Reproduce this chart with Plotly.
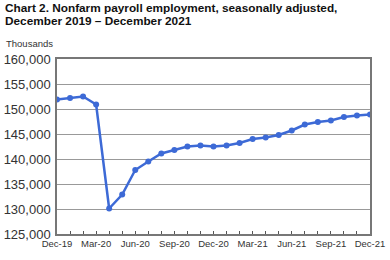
import plotly.graph_objects as go

months = ["Dec-19","Jan-20","Feb-20","Mar-20","Apr-20","May-20","Jun-20","Jul-20","Aug-20",
          "Sep-20","Oct-20","Nov-20","Dec-20","Jan-21","Feb-21","Mar-21","Apr-21","May-21",
          "Jun-21","Jul-21","Aug-21","Sep-21","Oct-21","Nov-21","Dec-21"]
employment = [151900, 152200, 152500, 150900, 130100, 132900, 137800, 139500, 141100,
              141800, 142500, 142700, 142500, 142700, 143200, 144000, 144300, 144800,
              145700, 146900, 147400, 147700, 148400, 148700, 148900]
labeled = ["Dec-19","Mar-20","Jun-20","Sep-20","Dec-20","Mar-21","Jun-21","Sep-21","Dec-21"]
yticks = [125000,130000,135000,140000,145000,150000,155000,160000]

title1 = "<b>Chart 2. Nonfarm payroll employment, seasonally adjusted,</b>"
title2 = "<b>December 2019 – December 2021</b>"

fig = go.Figure()
fig.add_trace(go.Scatter(x=months, y=employment, mode="lines+markers",
                         line=dict(color="#3d6ad6", width=2.5),
                         marker=dict(color="#3d6ad6", size=6)))
fig.update_layout(
    width=390, height=260, margin=dict(l=57, r=20, t=59, b=26),
    paper_bgcolor="white", plot_bgcolor="white", showlegend=False,
    font=dict(family="Liberation Sans, Arial", color="#333"),
    annotations=[
        dict(text=title1, xref="paper", yref="paper", x=-0.172, y=1.291,
             xanchor="left", yanchor="middle", showarrow=False,
             font=dict(size=11.8, color="#111")),
        dict(text=title2, xref="paper", yref="paper", x=-0.172, y=1.217,
             xanchor="left", yanchor="middle", showarrow=False,
             font=dict(size=11.8, color="#111")),
        dict(text="Thousands", xref="paper", yref="paper", x=-0.168, y=1.091,
             xanchor="left", yanchor="middle", showarrow=False,
             font=dict(size=9.5, color="#333")),
    ],
)
fig.update_xaxes(type="category", tickmode="array", tickvals=months,
                 ticktext=[m if m in labeled else "" for m in months],
                 ticks="inside", ticklen=3, tickcolor="#555", automargin=False,
                 showline=True, linecolor="#777", mirror=True, linewidth=1.5,
                 showgrid=False, range=[0, 24], tickfont=dict(size=9.5, color="#333"))
fig.update_yaxes(range=[125000, 160000], tickvals=yticks, tickformat=",",
                 showgrid=True, gridcolor="#999", gridwidth=1, automargin=False,
                 showline=True, linecolor="#777", mirror=True, linewidth=1.5,
                 ticks="", ticklabelstandoff=2, tickfont=dict(size=13, color="#333"))
fig.write_html("out.html")
